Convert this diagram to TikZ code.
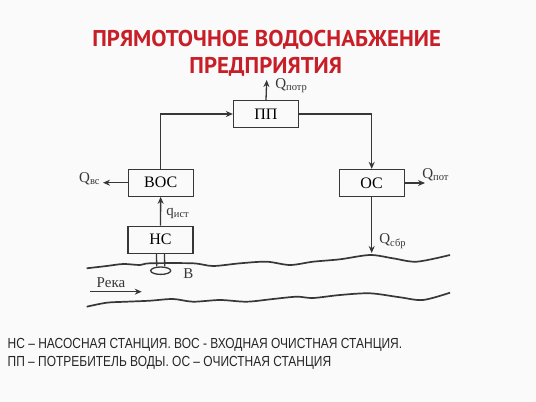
\documentclass[tikz,border=0pt]{standalone}
\usepackage{fontspec}
\setmainfont{Liberation Serif}
\newfontfamily\titlefont{PT Sans}
\newfontfamily\legendfont[FakeStretch=0.82]{Liberation Sans}
\usetikzlibrary{arrows.meta, shapes.geometric}
\definecolor{titlered}{RGB}{200, 30, 40}
\definecolor{inkgray}{RGB}{55, 55, 55}
\definecolor{paper}{RGB}{250, 250, 250}

\begin{document}
\begin{tikzpicture}[x=0.5pt, y=-0.5pt,
  unit/.style={draw=inkgray, line width=0.65pt, minimum width=32.5pt, minimum height=13.5pt, inner sep=0pt, font=\fontsize{8}{9}\selectfont},
  flow/.style={-{Stealth[length=3.5pt, width=3pt]}, draw=inkgray, line width=0.65pt},
  qlabel/.style={font=\fontsize{7.5}{8}\selectfont, text=inkgray, inner sep=0pt},
  water/.style={draw=inkgray, line width=0.85pt}]
  \fill[paper] (0,0) rectangle (536,402);
  \useasboundingbox (0,0) rectangle (536,402);

  % Title
  \node[anchor=base, font=\titlefont\bfseries\fontsize{11.4}{13}\selectfont, text=titlered] (title1) at (266.7, 46.7) {ПРЯМОТОЧНОЕ ВОДОСНАБЖЕНИЕ};
  \node[anchor=base, font=\titlefont\bfseries\fontsize{11.4}{13}\selectfont, text=titlered] (title2) at (265.8, 73.3) {ПРЕДПРИЯТИЯ};

  % Units
  \node[unit] (pp) at (266, 114) {ПП};
  \node[unit] (vos) at (160.7, 182.7) {ВОС};
  \node[unit] (os) at (371.7, 183) {ОС};
  \node[unit] (ns) at (160.5, 239.7) {НС};
  \node[draw=inkgray, line width=0.65pt, ellipse, minimum width=10pt, minimum height=3.7pt, inner sep=0pt] (intake) at (160.7, 270.7) {};

  % Free ends
  \coordinate (qpotrend) at (266.7, 80);
  \coordinate (qvsend) at (103, 182.7);
  \coordinate (qpotend) at (425, 183);
  \coordinate (outfall) at (371.7, 253);
  \coordinate (flowstart) at (90, 291.7);
  \coordinate (flowend) at (141.7, 291.7);

  % Water path
  \draw[flow] (ns) -- (vos);
  \draw[flow] (vos.north) |- (pp.west);
  \draw[flow] (pp.east) -| (os.north);
  \draw[flow] (os.south) -- (outfall);
  \draw[flow] (pp.north) -- (qpotrend);
  \draw[flow] (vos.west) -- (qvsend);
  \draw[flow] (os.east) -- (qpotend);

  % Intake pipe
  \draw[inkgray, line width=0.65pt] ([xshift=-2pt]ns.south) -- ([xshift=-2pt]intake.north);
  \draw[inkgray, line width=0.65pt] ([xshift=2pt]ns.south) -- ([xshift=2pt]intake.north);

  % Flow labels
  \node[qlabel, anchor=west] (qpotr) at (275, 86) {Q\textsubscript{потр}};
  \node[qlabel, anchor=east] (qvs) at (101, 179) {Q\textsubscript{вс}};
  \node[qlabel, anchor=west] (qpot) at (422, 175) {Q\textsubscript{пот}};
  \node[qlabel, anchor=west] (qist) at (166, 213) {q\textsubscript{ист}};
  \node[qlabel, anchor=west] (qsbr) at (379, 241) {Q\textsubscript{сбр}};
  \node[qlabel] (src) at (188.3, 273.3) {В};

  % River
  \draw[water] plot[smooth] coordinates {(86.7,268.3) (106.7,266) (123.3,264) (140,265) (150,263.3) (193,263.3) (213,266) (240,263.3) (266.7,261.7) (290,265) (313,261.7) (340,259.3) (370,255) (393,258.3) (416.7,261.7) (450,255)};
  \draw[water] plot[smooth] coordinates {(86.7,306.7) (106.7,302.7) (126.7,301.7) (150,300.7) (173,299) (193,301.7) (220,300) (246.7,301.7) (273,299) (296.7,296.7) (313,298) (340,295) (370,293.3) (400,297.3) (423,300) (450,292.7)};
  \node[qlabel] (reka) at (111, 283) {Река};
  \draw[flow] (flowstart) -- (flowend);

  % Legend
  \node[anchor=base west, inner sep=0pt, font=\legendfont\fontsize{7.3}{9}\selectfont, text=black!85] (legend1) at (7.3, 348) {НС – НАСОСНАЯ СТАНЦИЯ. ВОС - ВХОДНАЯ ОЧИСТНАЯ СТАНЦИЯ.};
  \node[anchor=base west, inner sep=0pt, font=\legendfont\fontsize{7.3}{9}\selectfont, text=black!85] (legend2) at (7.3, 366) {ПП – ПОТРЕБИТЕЛЬ ВОДЫ. ОС – ОЧИСТНАЯ СТАНЦИЯ};
\end{tikzpicture}
\end{document}
